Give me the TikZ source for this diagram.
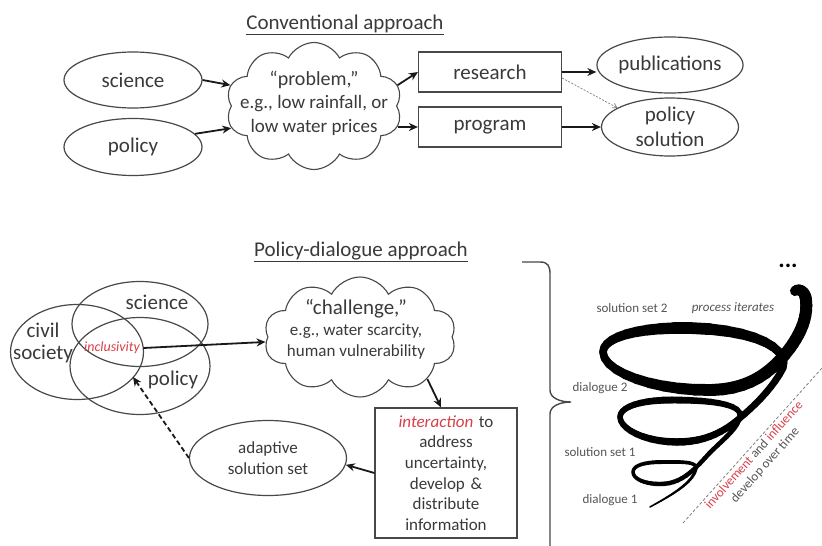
\documentclass[tikz,border=0pt]{standalone}
\usepackage{fontspec}
\setmainfont{Carlito}
\usetikzlibrary{shapes.geometric,shapes.symbols,arrows.meta,calc}
\definecolor{txt}{HTML}{3A3A3A}
\definecolor{ln}{HTML}{484848}
\definecolor{lbl}{HTML}{555555}
\definecolor{redt}{HTML}{D8404A}
\newcommand\spseg[6]{%
  \path #1 .. controls #2 and #3 .. #4
    coordinate[pos=0] (q0) coordinate[pos=0.1] (q1) coordinate[pos=0.2] (q2)
    coordinate[pos=0.3] (q3) coordinate[pos=0.4] (q4) coordinate[pos=0.5] (q5)
    coordinate[pos=0.6] (q6) coordinate[pos=0.7] (q7) coordinate[pos=0.8] (q8)
    coordinate[pos=0.9] (q9) coordinate[pos=1] (q10);
  \foreach \k in {1,...,10}{%
    \pgfmathtruncatemacro\kk{\k-1}%
    \pgfmathsetmacro\ww{#5+(#6-#5)*(\k-0.5)/10}%
    \draw[black, line width=\ww pt, line cap=round] (q\kk) -- (q\k);
  }%
}
\begin{document}
\begin{tikzpicture}[x=1pt,y=-1pt,
  every node/.style={text=txt},
  ell/.style={draw=ln,line width=1.2pt,ellipse,inner sep=0pt,align=center},
  bx/.style={draw=ln,line width=1.2pt,rectangle,inner sep=0pt,align=center},
  cld/.style={draw=ln,line width=1.1pt,cloud,cloud puffs=10,cloud puff arc=125,cloud ignores aspect,inner sep=0pt},
  arr/.style={draw=black!90,line width=1.8pt,-{Stealth[length=9pt,width=8pt]}},
  fa/.style={font=\fontsize{21}{25}\selectfont},
  fb/.style={font=\fontsize{19}{23.5}\selectfont},
  fc/.style={font=\fontsize{17}{20.6}\selectfont},
  fs/.style={font=\fontsize{13}{15}\selectfont,text=lbl},
]
\useasboundingbox[fill=white] (0,0) rectangle (822,546);

% ---------- conventional approach ----------
\node[fa] (t1) at (345,25) {\underline{Conventional approach}};
\node[ell,fa,minimum width=138pt,minimum height=56pt] (sci) at (133,80) {science};
\node[ell,fa,minimum width=138pt,minimum height=57pt] (pol) at (133,147) {policy};
\node[cld,minimum width=176pt,minimum height=127pt] (prob) at (314,106) {};
\node[fb,align=center] (probtxt) at (314,103) {{\fontsize{20}{23.5}\selectfont “problem,”}\\e.g., low rainfall, or\\low water prices};
\node[bx,fa,minimum width=143pt,minimum height=40pt] (res) at (490,72) {research};
\node[bx,fa,minimum width=143pt,minimum height=40pt] (prog) at (490,127) {program};
\node[ell,fa,minimum width=136pt,minimum height=56pt] (pub) at (670,65) {publications};
\node[ell,fa,minimum width=137pt,minimum height=58pt] (psol) at (670,127) {policy\\solution};

\draw[arr] (sci.east) -- (prob.166);
\draw[arr] (pol.12) -- (prob.195);
\draw[arr] (prob.14) -- (res.west);
\draw[arr] (prob.-14 |- prog.west) -- (prog.west);
\draw[arr] (res.east) -- (res.east -| pub.west);
\draw[arr] (prog.east) -- (psol.west);
\draw[draw=gray,line width=0.7pt,dash pattern=on 2pt off 1.5pt,-{Straight Barb[length=4pt,width=5pt]}] ([yshift=-6pt]res.east) -- (psol.160);

% ---------- policy-dialogue approach ----------
\node[fa] (t2) at (361,252) {\underline{Policy-dialogue approach}};
\node[ell,minimum width=133pt,minimum height=95pt] (civ) at (77,352) {};
\node[ell,minimum width=136pt,minimum height=85pt] (sci2) at (140,324) {};
\node[ell,minimum width=140pt,minimum height=97pt] (pol2) at (140,366) {};
\node[fa] (sci2t) at (157,302) {science};
\node[font=\fontsize{21}{21.5}\selectfont,align=center] (civt) at (43,343) {civil\\society};
\node[fa] (pol2t) at (173,380) {policy};
\node[font=\fontsize{14}{16}\selectfont\itshape,text=redt] (incl) at (112,348) {inclusivity};

\node[cld,minimum width=192pt,minimum height=120pt] (chal) at (360,337) {};
\node[font=\fontsize{17}{21}\selectfont,align=center] (chaltxt) at (356,329) {{\fontsize{21}{24}\selectfont “challenge,”}\\e.g., water scarcity,\\human vulnerability};
\node[bx,fc,minimum width=142pt,minimum height=130pt,text width=138pt] (inter) at (446,473) {{\color{redt}\itshape interaction} to\\address\\uncertainty,\\develop \&\\distribute\\information};
\node[ell,fc,minimum width=157pt,minimum height=75pt] (adapt) at (268,458) {adaptive\\solution set};
\coordinate (dashend) at (133,377);

\draw[arr] (incl.east) -- (chal.183);
\draw[arr] (chal.-32) -- ([xshift=-5pt]inter.north);
\draw[arr] (inter.west) -- (adapt.-5);
\draw[arr,dash pattern=on 5pt off 3pt] (adapt.west) -- (dashend);

% brace
\draw[draw=ln,line width=1.4pt] (522,262) -- (540,262) .. controls (548,262) and (550,266) .. (550,274) -- (550,390) .. controls (550,398) and (560,402) .. (571,402) .. controls (560,402) and (550,406) .. (550,414) -- (550,560);

% spiral
\spseg{(650,507)}{(666,498)}{(693,484)}{(696,469)}{1.5}{3.2}
\spseg{(696,469)}{(698,461)}{(680,462)}{(662,462)}{3.2}{4}
\spseg{(662,462)}{(646,462)}{(633,465)}{(633,472)}{4}{3.4}
\spseg{(633,472)}{(633,479)}{(645,484)}{(660,484)}{3.4}{4.4}
\spseg{(660,484)}{(676,484)}{(688,477)}{(705,458)}{4.4}{4.4}
\spseg{(705,458)}{(718,443)}{(738,430)}{(740,416)}{4.4}{5}
\spseg{(740,416)}{(742,403)}{(705,400)}{(672,400)}{5}{7}
\spseg{(672,400)}{(640,400)}{(620,407)}{(620,417)}{7}{5.5}
\spseg{(620,417)}{(620,429)}{(645,442)}{(677,442)}{5.5}{7.5}
\spseg{(677,442)}{(702,442)}{(720,434)}{(735,422)}{7.5}{6.5}
\spseg{(735,422)}{(750,410)}{(772,390)}{(783,368)}{6.5}{7}
\spseg{(783,368)}{(789,350)}{(760,330)}{(690,328)}{7}{12}
\spseg{(690,328)}{(635,327)}{(603,338)}{(603,352)}{12}{7.5}
\spseg{(603,352)}{(603,372)}{(655,391)}{(712,390)}{7.5}{12}
\spseg{(712,390)}{(750,389)}{(772,372)}{(790,348)}{12}{12}
\spseg{(790,348)}{(800,334)}{(808,318)}{(806,300)}{12}{12}
\spseg{(806,300)}{(805,290)}{(798,288)}{(795,291)}{12}{10}

\node[fs] (ss2) at (632,308) {solution set 2};
\node[fs,font=\fontsize{13}{15}\selectfont\itshape] (pit) at (733,308) {process iterates};
\node[fs] (dl2) at (600,388) {dialogue 2};
\node[fs] (ss1) at (600,452) {solution set 1};
\node[fs] (dl1) at (610,500) {dialogue 1};
\node[font=\fontsize{24}{26}\selectfont\bfseries,text=black] (dots) at (788,266) {...};

\coordinate (da) at (683,523);
\coordinate (db) at (822,368);
\draw[draw=gray,line width=0.8pt,dash pattern=on 3pt off 2pt] (da) -- (db);
\path (da) -- (db) node[fs,pos=0.47,sloped,anchor=north,inner sep=2pt,align=center] (dev) {{\color{redt}involvement} and {\color{redt}influence}\\develop over time};
\end{tikzpicture}
\end{document}
